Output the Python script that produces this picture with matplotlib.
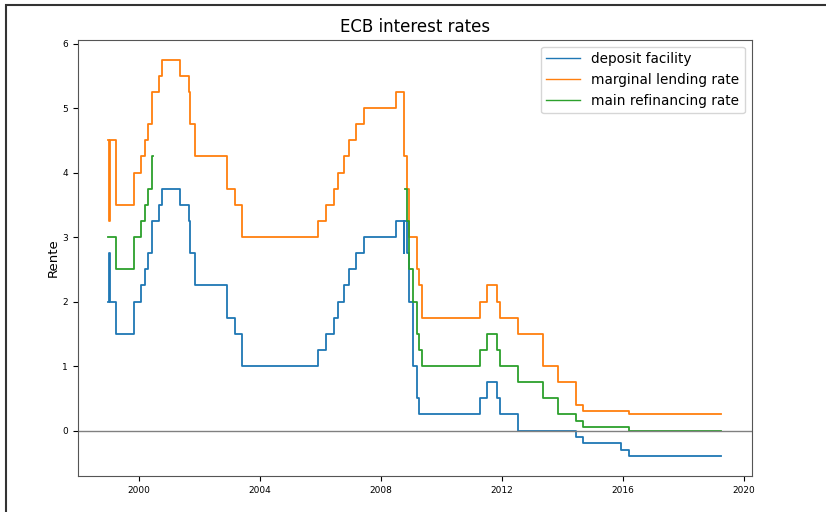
import numpy as np
import matplotlib
matplotlib.use('Agg')
import matplotlib.pyplot as plt
import matplotlib.dates as mdates
import pandas as pd
from matplotlib.patches import Rectangle

# ECB key rates (change dates and new levels), last entry extends the final step
deposit_dates = ['1999-01-01', '1999-01-04', '1999-01-22', '1999-04-09', '1999-11-05',
                 '2000-02-04', '2000-03-17', '2000-04-28', '2000-06-09', '2000-09-01',
                 '2000-10-06', '2001-05-11', '2001-08-31', '2001-09-18', '2001-11-09',
                 '2002-12-06', '2003-03-07', '2003-06-06', '2005-12-06', '2006-03-08',
                 '2006-06-15', '2006-08-09', '2006-10-11', '2006-12-13', '2007-03-14',
                 '2007-06-13', '2008-07-09', '2008-10-08', '2008-10-09', '2008-11-12',
                 '2008-12-10', '2009-01-21', '2009-03-11', '2009-04-08', '2011-04-13',
                 '2011-07-13', '2011-11-09', '2011-12-14', '2012-07-11', '2014-06-11',
                 '2014-09-10', '2015-12-09', '2016-03-16', '2019-04-01']
deposit_rate = [2.00, 2.75, 2.00, 1.50, 2.00,
                2.25, 2.50, 2.75, 3.25, 3.50,
                3.75, 3.50, 3.25, 2.75, 2.25,
                1.75, 1.50, 1.00, 1.25, 1.50,
                1.75, 2.00, 2.25, 2.50, 2.75,
                3.00, 3.25, 2.75, 3.25, 2.75,
                2.00, 1.00, 0.50, 0.25, 0.50,
                0.75, 0.50, 0.25, 0.00, -0.10,
                -0.20, -0.30, -0.40, -0.40]

lending_dates = ['1999-01-01', '1999-01-04', '1999-01-22', '1999-04-09', '1999-11-05',
                 '2000-02-04', '2000-03-17', '2000-04-28', '2000-06-09', '2000-09-01',
                 '2000-10-06', '2001-05-11', '2001-08-31', '2001-09-18', '2001-11-09',
                 '2002-12-06', '2003-03-07', '2003-06-06', '2005-12-06', '2006-03-08',
                 '2006-06-15', '2006-08-09', '2006-10-11', '2006-12-13', '2007-03-14',
                 '2007-06-13', '2008-07-09', '2008-10-08', '2008-10-09', '2008-11-12',
                 '2008-12-10', '2009-03-11', '2009-04-08', '2009-05-13', '2011-04-13',
                 '2011-07-13', '2011-11-09', '2011-12-14', '2012-07-11', '2013-05-08',
                 '2013-11-13', '2014-06-11', '2014-09-10', '2016-03-16', '2019-04-01']
lending_rate = [4.50, 3.25, 4.50, 3.50, 4.00,
                4.25, 4.50, 4.75, 5.25, 5.50,
                5.75, 5.50, 5.25, 4.75, 4.25,
                3.75, 3.50, 3.00, 3.25, 3.50,
                3.75, 4.00, 4.25, 4.50, 4.75,
                5.00, 5.25, 4.75, 4.25, 3.75,
                3.00, 2.50, 2.25, 1.75, 2.00,
                2.25, 2.00, 1.75, 1.50, 1.00,
                0.75, 0.40, 0.30, 0.25, 0.25]

# fixed rate tenders only; variable rate period (mid 2000 - Oct 2008) has no value
refi_dates = ['1999-01-01', '1999-04-09', '1999-11-05', '2000-02-04', '2000-03-17',
              '2000-04-28', '2000-06-09', '2000-06-28', '2008-10-15', '2008-11-12',
              '2008-12-10', '2009-01-21', '2009-03-11', '2009-04-08', '2009-05-13',
              '2011-04-13', '2011-07-13', '2011-11-09', '2011-12-14', '2012-07-11',
              '2013-05-08', '2013-11-13', '2014-06-11', '2014-09-10', '2016-03-16',
              '2019-04-01']
refi_rate = [3.00, 2.50, 3.00, 3.25, 3.50,
             3.75, 4.25, np.nan, 3.75, 3.25,
             2.50, 2.00, 1.50, 1.25, 1.00,
             1.25, 1.50, 1.25, 1.00, 0.75,
             0.50, 0.25, 0.15, 0.05, 0.00,
             0.00]

fig = plt.figure(figsize=(8.26, 5.12), dpi=100)
ax = fig.add_axes([0.094, 0.070, 0.816, 0.852])

ax.step(pd.to_datetime(deposit_dates), deposit_rate, where='post', lw=1.3, color='#1f77b4', label='deposit facility')
ax.step(pd.to_datetime(lending_dates), lending_rate, where='post', lw=1.3, color='#ff7f0e', label='marginal lending rate')
ax.step(pd.to_datetime(refi_dates), refi_rate, where='post', lw=1.3, color='#2ca02c', label='main refinancing rate')
ax.axhline(0, color='grey', lw=1)

ax.set_title('ECB interest rates', fontsize=12)
ax.set_ylabel('Rente', fontsize=9.5, labelpad=2)
ax.xaxis.set_major_locator(mdates.YearLocator(4))
ax.xaxis.set_major_formatter(mdates.DateFormatter('%Y'))
ax.tick_params(labelsize=6.5)
for s in ax.spines.values():
    s.set_color('#555555')

leg = ax.legend(loc='upper right', fontsize=9.8, handlelength=2.5)
for line in leg.get_lines():
    line.set_linewidth(1.0)

# border of the screenshot (left and top only)
fig.add_artist(Rectangle((0.007, -0.1), 1.2, 1.09, transform=fig.transFigure,
                         fill=False, ec='#333333', lw=1.5))

plt.savefig('out.png', dpi=100)
